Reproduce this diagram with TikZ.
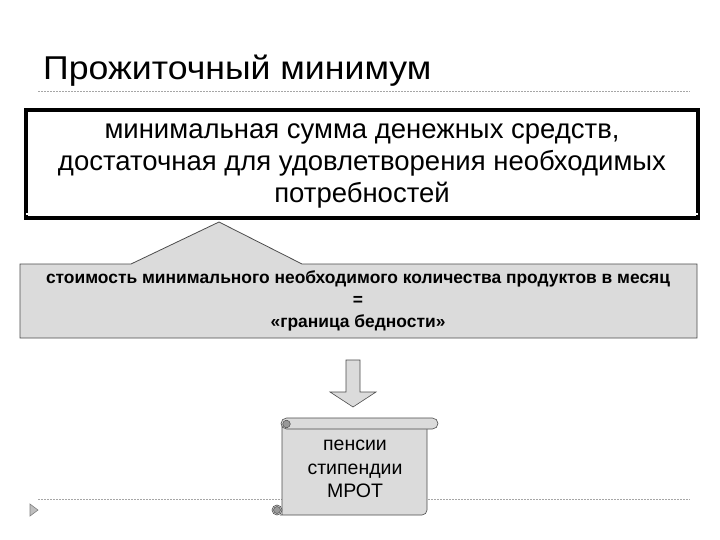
\documentclass[tikz,border=0pt]{standalone}
\usepackage{fontspec}
\setmainfont{Liberation Sans}
\begin{document}
\begin{tikzpicture}[x=1pt,y=-1pt,
  gfill/.style={fill=black!14,draw=black!70,line width=0.8pt},
  dline/.style={draw=black!35,dash pattern=on 2pt off 1pt,line width=0.6pt}]
\useasboundingbox (0,0) rectangle (720,540);
\fill[white] (0,0) rectangle (720,540);
\node[anchor=base west,inner sep=0,font=\fontsize{33}{36}\selectfont,xscale=1.08] (title) at (43,80) {Прожиточный минимум};
\coordinate (l1a) at (38,91); \coordinate (l1b) at (690,91);
\draw[dline] (l1a) -- (l1b);
\coordinate (l2a) at (38,499); \coordinate (l2b) at (690,499);
\draw[dline] (l2a) -- (l2b);
% bullet
\draw[black!50,fill=black!25,line width=0.6pt] (30,504) -- (38,510) -- (30,516) -- cycle;
% big box
\draw[line width=4.5pt] (26,110) rectangle (698,218);
\draw[white,line width=1.2pt] (26,214) -- (698,214);
\node[align=center,font=\fontsize{27.5}{32}\selectfont,inner sep=0] (def) at (362,166)
 {минимальная сумма денежных средств,\\достаточная для удовлетворения необходимых\\потребностей};
% callout
\draw[gfill] (20,264) -- (131,264) -- (219,222) -- (302,264) -- (697,264) -- (697,338) -- (20,338) -- cycle;
\node[align=center,font=\bfseries\fontsize{17.4}{22}\selectfont,inner sep=0] (cost) at (358,301)
 {стоимость минимального необходимого количества продуктов в месяц\\=\\«граница бедности»};
% arrow
\draw[gfill,line width=0.6pt] (346,360) -- (360,360) -- (360,392) -- (376,392) -- (353,407) -- (330,392) -- (346,392) -- cycle;
% scroll
\draw[gfill,line width=0.6pt,rounded corners=5] (282,424) -- (427,424) -- (427,515) -- (277,515) [sharp corners] -- (282,515) -- cycle;
\draw[gfill,line width=0.6pt,rounded corners=5.5] (281,418) rectangle (438,429);
\fill[black!40] (286.5,424) circle (3.8);
\draw[black!70,line width=0.5pt] (286.5,424) circle (3.8);
\draw[fill=black!14,draw=black!70,line width=0.6pt] (277,510) circle (5);
\draw[fill=black!40,draw=black!70,line width=0.5pt] (277,510) circle (3.5);
\node[align=center,font=\fontsize{19.5}{23.5}\selectfont,inner sep=0] (lst) at (355,469)
 {пенсии\\стипендии\\МРОТ};
\end{tikzpicture}
\end{document}
